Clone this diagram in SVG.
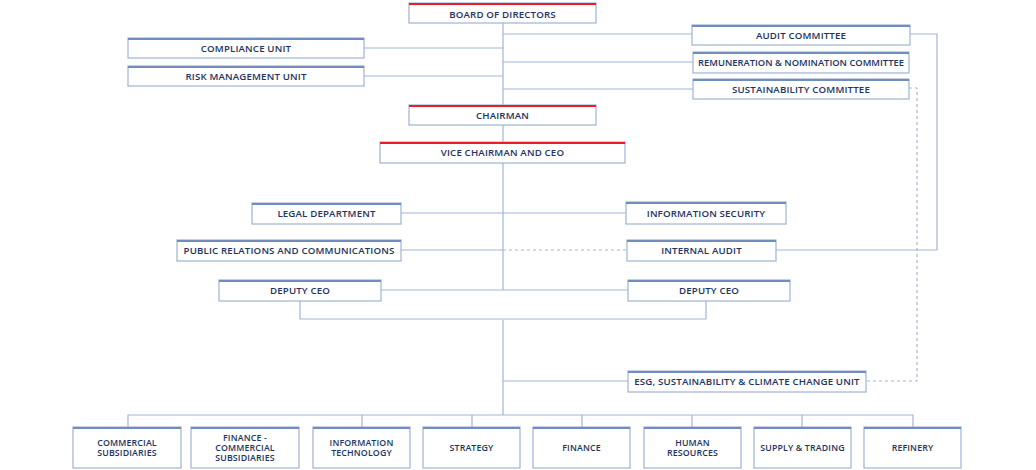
<svg xmlns="http://www.w3.org/2000/svg" width="1036" height="470" viewBox="0 0 1036 470">
<style>
.box{fill:#fff;stroke:#9fb2d4;stroke-width:1.2}
.top{stroke:#6f8dbf;stroke-width:2.2}
.red{stroke:#ee1c25;stroke-width:2.2}
.ln{fill:none;stroke:#a3b5d6;stroke-width:1.2}
.dash{fill:none;stroke:#a3b5d6;stroke-width:1.2;stroke-dasharray:3 3}
text{font-family:"Open Sans","Liberation Sans",sans-serif;font-weight:600;fill:#1d3360;text-anchor:middle;font-size:9.7px;letter-spacing:0.15px}
.s{font-size:8.8px;letter-spacing:0.15px}
</style>
<rect width="1036" height="470" fill="#fff"/>
<g id="connectors">
<path class="ln" d="M503 23V290M503 320V415"/>
<path class="ln" d="M364 48H503M364 76H503M503 34H692M503 62H693M503 89H693"/>
<path class="ln" d="M910 34H937V250H776"/>
<path class="dash" d="M909 88H917V381H866"/>
<path class="ln" d="M401 213H626"/>
<path class="ln" d="M401 250H503"/>
<path class="dash" d="M503 250H627"/>
<path class="ln" d="M381 290H628"/>
<path class="ln" d="M300 301V319H706V301"/>
<path class="ln" d="M503 381H628"/>
<path class="ln" d="M128 427V415H913V427M362 415V427M472 415V427M582 415V427M692 415V427M802 415V427"/>
</g>
<g id="board"><rect class="box" x="409" y="3" width="187" height="20"/><path class="red" d="M409 4H596"/><text x="502.5" y="17.5">BOARD OF DIRECTORS</text></g>
<g id="compliance"><rect class="box" x="128" y="38" width="236" height="20"/><path class="top" d="M128 39H364"/><text x="246" y="52.3">COMPLIANCE UNIT</text></g>
<g id="risk"><rect class="box" x="128" y="66" width="236" height="20"/><path class="top" d="M128 67H364"/><text x="246" y="80">RISK MANAGEMENT UNIT</text></g>
<g id="audit-committee"><rect class="box" x="692" y="25" width="218" height="20"/><path class="top" d="M692 26H910"/><text x="801" y="39">AUDIT COMMITTEE</text></g>
<g id="remuneration"><rect class="box" x="693" y="52" width="216" height="21"/><path class="top" d="M693 53H909"/><text x="801" y="66.3" style="font-size:9.4px;letter-spacing:0px">REMUNERATION &amp; NOMINATION  COMMITTEE</text></g>
<g id="sustainability"><rect class="box" x="693" y="79" width="216" height="20"/><path class="top" d="M693 80H909"/><text x="801" y="93">SUSTAINABILITY COMMITTEE</text></g>
<g id="chairman"><rect class="box" x="409" y="105" width="187" height="20"/><path class="red" d="M409 106H596"/><text x="502.5" y="119">CHAIRMAN</text></g>
<g id="ceo"><rect class="box" x="380" y="142" width="245" height="21"/><path class="red" d="M380 143H625"/><text x="502.5" y="156.3">VICE CHAIRMAN AND CEO</text></g>
<g id="legal"><rect class="box" x="252" y="203" width="149" height="21"/><path class="top" d="M252 204H401"/><text x="326.5" y="217.3">LEGAL DEPARTMENT</text></g>
<g id="infosec"><rect class="box" x="626" y="202" width="160" height="22"/><path class="top" d="M626 203H786"/><text x="706" y="217.3">INFORMATION SECURITY</text></g>
<g id="pr"><rect class="box" x="177" y="240" width="224" height="21"/><path class="top" d="M177 241H401"/><text x="289" y="254.3">PUBLIC RELATIONS AND COMMUNICATIONS</text></g>
<g id="internal-audit"><rect class="box" x="627" y="240" width="149" height="21"/><path class="top" d="M627 241H776"/><text x="701.5" y="254">INTERNAL AUDIT</text></g>
<g id="deputy-left"><rect class="box" x="219" y="280" width="162" height="21"/><path class="top" d="M219 281H381"/><text x="300" y="294.3">DEPUTY CEO</text></g>
<g id="deputy-right"><rect class="box" x="628" y="280" width="162" height="21"/><path class="top" d="M628 281H790"/><text x="709" y="294.3">DEPUTY CEO</text></g>
<g id="esg"><rect class="box" x="628" y="371" width="238" height="21"/><path class="top" d="M628 372H866"/><text x="747" y="385">ESG, SUSTAINABILITY &amp; CLIMATE CHANGE UNIT</text></g>
<g id="commercial"><rect class="box" x="73" y="427" width="108" height="41"/><path class="top" d="M73 428H181"/><text class="s" x="127" y="445.8">COMMERCIAL</text><text class="s" x="127" y="456">SUBSIDIARIES</text></g>
<g id="finance-commercial"><rect class="box" x="191" y="427" width="108" height="41"/><path class="top" d="M191 428H299"/><text class="s" x="245" y="441">FINANCE -</text><text class="s" x="245" y="451">COMMERCIAL</text><text class="s" x="245" y="461">SUBSIDIARIES</text></g>
<g id="it"><rect class="box" x="313" y="427" width="97" height="41"/><path class="top" d="M313 428H410"/><text class="s" x="361.5" y="445.8">INFORMATION</text><text class="s" x="361.5" y="456">TECHNOLOGY</text></g>
<g id="strategy"><rect class="box" x="423" y="427" width="97" height="41"/><path class="top" d="M423 428H520"/><text class="s" x="471.5" y="451">STRATEGY</text></g>
<g id="finance"><rect class="box" x="533" y="427" width="97" height="41"/><path class="top" d="M533 428H630"/><text class="s" x="581.5" y="451">FINANCE</text></g>
<g id="hr"><rect class="box" x="644" y="427" width="97" height="41"/><path class="top" d="M644 428H741"/><text class="s" x="692.5" y="445.8">HUMAN</text><text class="s" x="692.5" y="456">RESOURCES</text></g>
<g id="supply"><rect class="box" x="754" y="427" width="97" height="41"/><path class="top" d="M754 428H851"/><text class="s" x="802.5" y="451">SUPPLY &amp; TRADING</text></g>
<g id="refinery"><rect class="box" x="864" y="427" width="97" height="41"/><path class="top" d="M864 428H961"/><text class="s" x="912.5" y="451">REFINERY</text></g>
</svg>
